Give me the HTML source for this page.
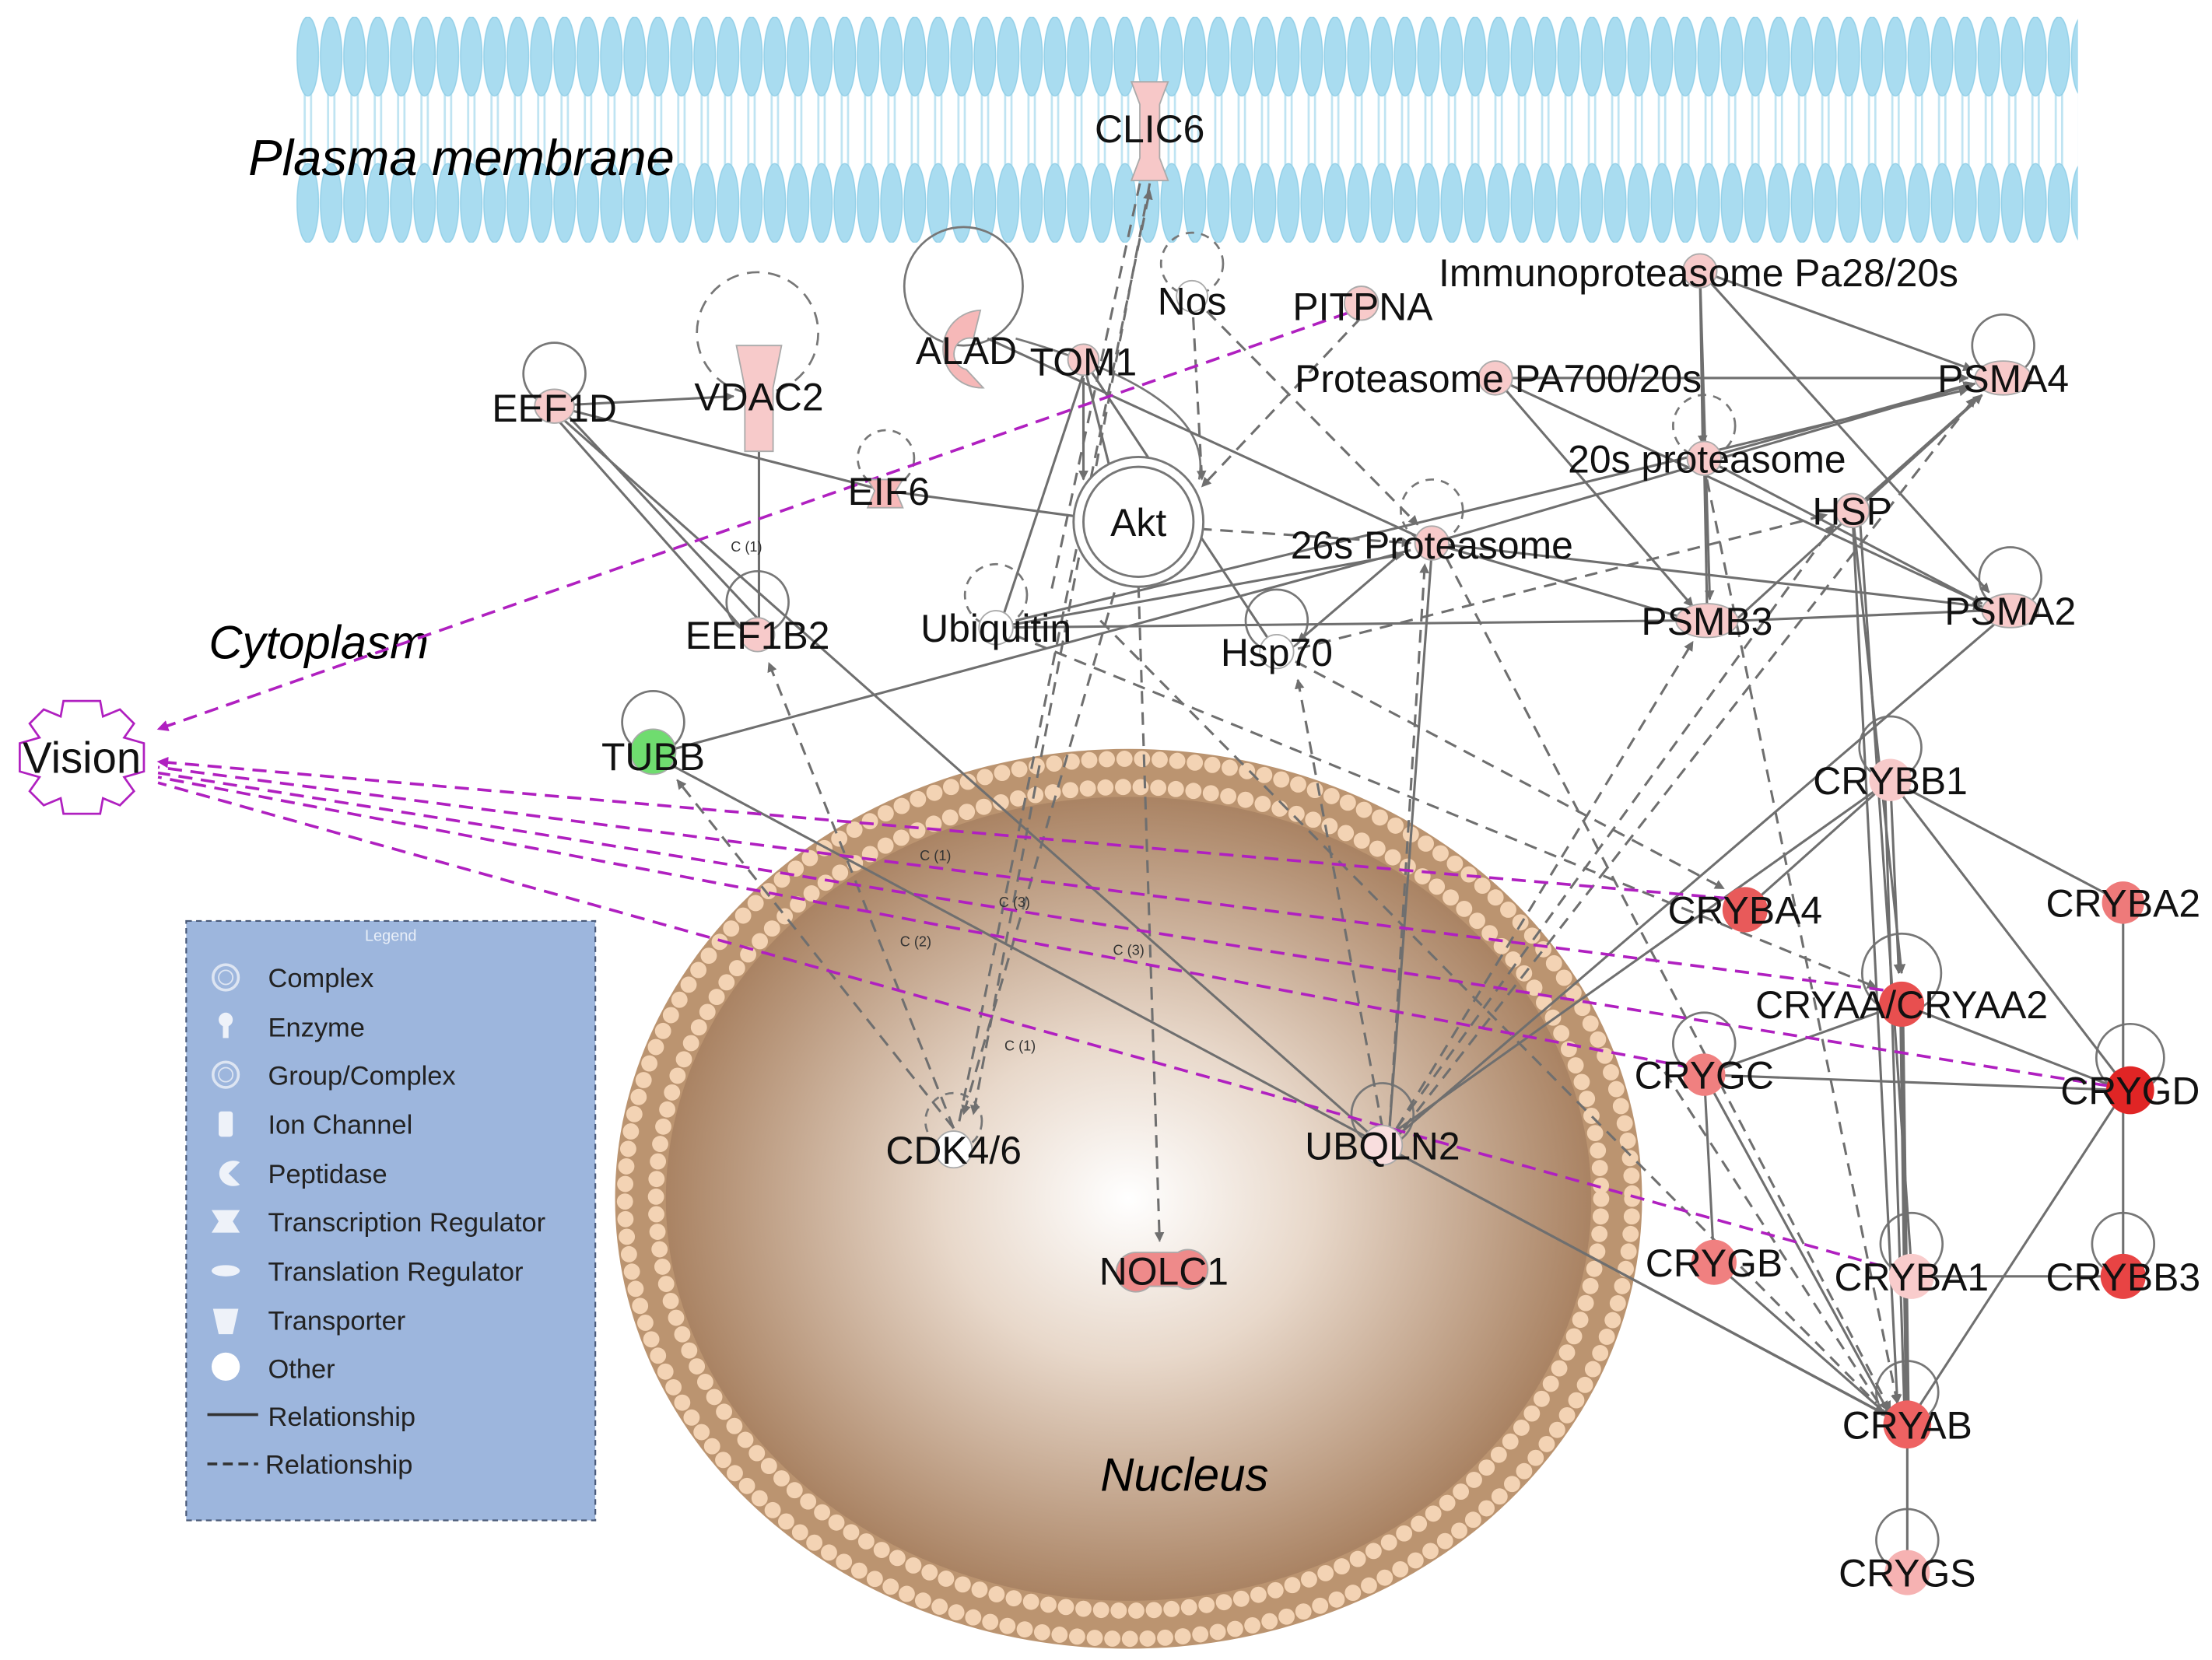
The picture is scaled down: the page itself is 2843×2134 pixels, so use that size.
<!DOCTYPE html>
<html><head><meta charset="utf-8"><style>
html,body{margin:0;padding:0;background:#fff;}
svg{display:block;}
text{font-family:"Liberation Sans",sans-serif;}
</style></head><body>
<svg width="2843" height="2134" viewBox="0 0 1568 1177" preserveAspectRatio="none" xmlns="http://www.w3.org/2000/svg">
<defs>
<pattern id="mem" x="210" y="12" width="16.55" height="160" patternUnits="userSpaceOnUse">
 <line x1="6" y1="50" x2="6" y2="122" stroke="#bfe4f2" stroke-width="1.5"/>
 <line x1="10.5" y1="50" x2="10.5" y2="122" stroke="#bfe4f2" stroke-width="1.5"/>
 <ellipse cx="8.2" cy="28" rx="7.6" ry="28" fill="#a9dcf0" stroke="#93d0e8" stroke-width="0.8"/>
 <ellipse cx="8.2" cy="132" rx="7.6" ry="28" fill="#a9dcf0" stroke="#93d0e8" stroke-width="0.8"/>
</pattern>
<radialGradient id="nuc" cx="800" cy="850" r="330" gradientUnits="userSpaceOnUse" gradientTransform="translate(800 850) scale(1 0.87) translate(-800 -850)">
 <stop offset="0" stop-color="#ffffff"/><stop offset="0.4" stop-color="#e8d8ca"/><stop offset="1" stop-color="#a98262"/>
</radialGradient>
<marker id="ar" viewBox="0 0 10 10" refX="9" refY="5" markerWidth="7" markerHeight="7" orient="auto" markerUnits="userSpaceOnUse"><path d="M0,0L10,5L0,10z" fill="#6f6f6f"/></marker>
<marker id="am" viewBox="0 0 10 10" refX="9" refY="5" markerWidth="8" markerHeight="8" orient="auto" markerUnits="userSpaceOnUse"><path d="M0,0L10,5L0,10z" fill="#b020c0"/></marker>
</defs>

<rect x="210" y="12" width="1263" height="160" fill="url(#mem)"/>

<ellipse cx="800" cy="850" rx="364" ry="319" fill="#bb9470"/>
<ellipse cx="800" cy="850" rx="357" ry="312" fill="none" stroke="#f3d3b4" stroke-width="11.5" stroke-dasharray="0 12.5" stroke-linecap="round"/>
<ellipse cx="800" cy="850" rx="335" ry="292" fill="none" stroke="#f3d3b4" stroke-width="11.5" stroke-dasharray="0 12.5" stroke-linecap="round"/>
<ellipse cx="800" cy="850" rx="328" ry="285" fill="url(#nuc)"/>

<text x="176" y="124" font-size="36" font-style="italic">Plasma membrane</text>
<text x="148" y="467" font-size="33" font-style="italic">Cytoplasm</text>
<text x="780" y="1057" font-size="33" font-style="italic">Nucleus</text>

<rect x="132" y="653" width="290" height="425" fill="#9db6dd" stroke="#4a5a78" stroke-width="1.2" stroke-dasharray="4 3"/>
<text x="277" y="667" font-size="11" fill="#e8eef8" text-anchor="middle">Legend</text>
<g font-size="19" fill="#222">
<circle cx="160" cy="693" r="9" fill="none" stroke="#dde5f2" stroke-width="2"/><circle cx="160" cy="693" r="5" fill="none" stroke="#dde5f2"/><text x="190" y="700">Complex</text>
<circle cx="160" cy="723" r="5" fill="#eef2f9"/><rect x="158" y="727" width="4" height="9" fill="#eef2f9"/><text x="190" y="735">Enzyme</text>
<circle cx="160" cy="762" r="9" fill="none" stroke="#dde5f2" stroke-width="2"/><circle cx="160" cy="762" r="5" fill="none" stroke="#dde5f2"/><text x="190" y="769">Group/Complex</text>
<rect x="155" y="788" width="10" height="18" rx="2" fill="#eef2f9"/><text x="190" y="804">Ion Channel</text>
<path d="M170,824 A10,9 0 1,0 170,840 L162,832z" fill="#eef2f9"/><text x="190" y="839">Peptidase</text>
<path d="M150,858 L170,858 L165,866 L170,874 L150,874 L155,866z" fill="#eef2f9"/><text x="190" y="873">Transcription Regulator</text>
<ellipse cx="160" cy="901" rx="10" ry="4" fill="#eef2f9"/><text x="190" y="908">Translation Regulator</text>
<path d="M151,928 L169,928 L165,946 L155,946z" fill="#eef2f9"/><text x="190" y="943">Transporter</text>
<circle cx="160" cy="969" r="10" fill="#fff"/><text x="190" y="977">Other</text>
<line x1="147" y1="1003" x2="183" y2="1003" stroke="#333" stroke-width="2"/><text x="190" y="1011">Relationship</text>
<line x1="147" y1="1038" x2="183" y2="1038" stroke="#333" stroke-width="2" stroke-dasharray="7 4"/><text x="188" y="1045">Relationship</text>
</g>

<g fill="none" stroke="#777" stroke-width="1.5">
<circle cx="393" cy="265" r="22"/>
<circle cx="537" cy="236" r="43" stroke-dasharray="9 6"/>
<circle cx="683" cy="203" r="42"/>
<circle cx="845" cy="187" r="22" stroke-dasharray="6 5"/>
<circle cx="628" cy="325" r="20" stroke-dasharray="6 5"/>
<circle cx="537" cy="427" r="22"/>
<circle cx="706" cy="422" r="22" stroke-dasharray="6 5"/>
<circle cx="1015" cy="362" r="22" stroke-dasharray="6 5"/>
<circle cx="1208" cy="302" r="22" stroke-dasharray="6 5"/>
<circle cx="1420" cy="245" r="22"/>
<circle cx="1425" cy="410" r="22"/>
<circle cx="463" cy="512" r="22"/>
<circle cx="905" cy="440" r="22"/>
<circle cx="1340" cy="530" r="22"/>
<circle cx="1348" cy="690" r="28"/>
<circle cx="1208" cy="740" r="22"/>
<circle cx="1510" cy="750" r="24"/>
<circle cx="1355" cy="882" r="22"/>
<circle cx="1505" cy="882" r="22"/>
<circle cx="1352" cy="987" r="22"/>
<circle cx="1352" cy="1092" r="22"/>
<circle cx="980" cy="790" r="22"/>
<circle cx="676" cy="795" r="20" stroke-dasharray="6 5"/>
<path d="M720,240 C790,260 860,290 850,340"/>
</g>

<g stroke="#6f6f6f" stroke-width="1.7" fill="none">
<line x1="405" y1="287" x2="520" y2="281" marker-end="url(#ar)"/>
<line x1="393" y1="288" x2="628" y2="348"/>
<line x1="393" y1="295" x2="530" y2="450"/>
<line x1="400" y1="292" x2="545" y2="447"/>
<line x1="400" y1="298" x2="980" y2="812"/>
<line x1="538" y1="300" x2="538" y2="440"/>
<line x1="628" y1="348" x2="762" y2="366"/>
<line x1="700" y1="240" x2="1015" y2="385"/>
<line x1="768" y1="255" x2="905" y2="462"/>
<line x1="768" y1="265" x2="710" y2="440"/>
<line x1="770" y1="265" x2="790" y2="345" marker-end="url(#ar)"/>
<line x1="768" y1="268" x2="768" y2="340" marker-end="url(#ar)"/>
<line x1="706" y1="445" x2="995" y2="393" marker-end="url(#ar)"/>
<line x1="706" y1="445" x2="1190" y2="440"/>
<line x1="720" y1="440" x2="1395" y2="276" marker-end="url(#ar)"/>
<line x1="463" y1="535" x2="1000" y2="390"/>
<line x1="475" y1="542" x2="1335" y2="1002" marker-end="url(#ar)"/>
<line x1="1015" y1="385" x2="1400" y2="272" marker-end="url(#ar)"/>
<line x1="1015" y1="385" x2="1405" y2="430" marker-end="url(#ar)"/>
<line x1="1015" y1="385" x2="1190" y2="437"/>
<line x1="1015" y1="390" x2="985" y2="800"/>
<line x1="990" y1="395" x2="920" y2="455" marker-end="url(#ar)"/>
<line x1="1060" y1="268" x2="1395" y2="268" marker-end="url(#ar)"/>
<line x1="1060" y1="268" x2="1200" y2="430" marker-end="url(#ar)"/>
<line x1="1060" y1="268" x2="1405" y2="428" marker-end="url(#ar)"/>
<line x1="1205" y1="192" x2="1398" y2="262" marker-end="url(#ar)"/>
<line x1="1205" y1="192" x2="1207" y2="315" marker-end="url(#ar)"/>
<line x1="1205" y1="192" x2="1410" y2="420" marker-end="url(#ar)"/>
<line x1="1205" y1="192" x2="1212" y2="425" marker-end="url(#ar)"/>
<line x1="1208" y1="325" x2="1398" y2="272" marker-end="url(#ar)"/>
<line x1="1208" y1="325" x2="1405" y2="428" marker-end="url(#ar)"/>
<line x1="1208" y1="325" x2="1210" y2="428"/>
<line x1="1313" y1="362" x2="1405" y2="280" marker-end="url(#ar)"/>
<line x1="1230" y1="440" x2="1400" y2="285"/>
<line x1="1235" y1="440" x2="1405" y2="433"/>
<line x1="1313" y1="362" x2="1348" y2="690" marker-end="url(#ar)"/>
<line x1="1313" y1="362" x2="1345" y2="995" marker-end="url(#ar)"/>
<line x1="1318" y1="362" x2="1355" y2="900"/>
<line x1="1425" y1="433" x2="985" y2="810"/>
<line x1="985" y1="805" x2="1340" y2="553"/>
<line x1="980" y1="812" x2="1340" y2="1005"/>
<line x1="1340" y1="553" x2="1237" y2="645"/>
<line x1="1340" y1="553" x2="1505" y2="640"/>
<line x1="1340" y1="553" x2="1505" y2="768"/>
<line x1="1340" y1="553" x2="1346" y2="690" marker-end="url(#ar)"/>
<line x1="1336" y1="553" x2="1350" y2="1000"/>
<line x1="1505" y1="640" x2="1505" y2="905"/>
<line x1="1348" y1="712" x2="1505" y2="773"/>
<line x1="1348" y1="712" x2="1208" y2="762"/>
<line x1="1208" y1="762" x2="1505" y2="773"/>
<line x1="1208" y1="762" x2="1215" y2="895"/>
<line x1="1208" y1="762" x2="1338" y2="1000" marker-end="url(#ar)"/>
<line x1="1505" y1="775" x2="1352" y2="1010"/>
<line x1="1355" y1="905" x2="1505" y2="905"/>
<line x1="1348" y1="712" x2="1352" y2="1000" stroke-width="3.5" marker-end="url(#ar)"/>
<line x1="1352" y1="1010" x2="1352" y2="1115"/>
<line x1="1215" y1="895" x2="1340" y2="1005" marker-end="url(#ar)"/>
</g>

<g stroke="#6f6f6f" stroke-width="1.7" fill="none" stroke-dasharray="9 6">
<line x1="680" y1="795" x2="815" y2="135" marker-end="url(#ar)"/>
<line x1="815" y1="130" x2="690" y2="790" marker-end="url(#ar)"/>
<line x1="808" y1="130" x2="745" y2="420"/>
<line x1="845" y1="210" x2="1005" y2="372" marker-end="url(#ar)"/>
<line x1="845" y1="210" x2="852" y2="340" marker-end="url(#ar)"/>
<line x1="965" y1="225" x2="852" y2="345" marker-end="url(#ar)"/>
<line x1="807" y1="415" x2="822" y2="880" marker-end="url(#ar)"/>
<line x1="790" y1="420" x2="683" y2="790" marker-end="url(#ar)"/>
<line x1="676" y1="800" x2="480" y2="553" marker-end="url(#ar)"/>
<line x1="676" y1="800" x2="545" y2="470" marker-end="url(#ar)"/>
<line x1="980" y1="800" x2="920" y2="482" marker-end="url(#ar)"/>
<line x1="990" y1="800" x2="1200" y2="455" marker-end="url(#ar)"/>
<line x1="990" y1="800" x2="1300" y2="372" marker-end="url(#ar)"/>
<line x1="995" y1="800" x2="1400" y2="282" marker-end="url(#ar)"/>
<line x1="985" y1="800" x2="1010" y2="400" marker-end="url(#ar)"/>
<line x1="905" y1="462" x2="1222" y2="630" marker-end="url(#ar)"/>
<line x1="920" y1="460" x2="1295" y2="365" marker-end="url(#ar)"/>
<line x1="706" y1="445" x2="1330" y2="700" marker-end="url(#ar)"/>
<line x1="1025" y1="395" x2="1340" y2="1000" marker-end="url(#ar)"/>
<line x1="1210" y1="340" x2="1345" y2="995" marker-end="url(#ar)"/>
<line x1="850" y1="375" x2="1000" y2="385" marker-end="url(#ar)"/>
<line x1="780" y1="440" x2="1330" y2="995"/>
<line x1="1180" y1="760" x2="1335" y2="1000"/>
</g>

<g stroke="#b020c0" stroke-width="2" fill="none" stroke-dasharray="10 6">
<line x1="955" y1="222" x2="112" y2="517" marker-end="url(#am)"/>
<line x1="1225" y1="637" x2="112" y2="540" marker-end="url(#am)"/>
<line x1="1335" y1="702" x2="112" y2="544"/>
<line x1="1495" y1="770" x2="112" y2="548"/>
<line x1="1215" y1="760" x2="112" y2="551"/>
<line x1="1335" y1="898" x2="112" y2="555"/>
</g>

<g font-size="10" fill="#333">
<text x="518" y="391">C (1)</text>
<text x="652" y="610">C (1)</text>
<text x="708" y="643">C (3)</text>
<text x="638" y="671">C (2)</text>
<text x="789" y="677">C (3)</text>
<text x="712" y="745">C (1)</text>
</g>

<g stroke="#aaa" stroke-width="1">
<path d="M802,58 L828,58 L822,74 L822,112 L828,128 L802,128 L808,112 L808,74z" fill="#f7c8c8"/>
<circle cx="845" cy="210" r="11" fill="#fff"/>
<circle cx="965" cy="215" r="12" fill="#f7caca"/>
<circle cx="1205" cy="192" r="12" fill="#f7caca"/>
<path d="M695,220 A22,22 0 1,0 697,275 L685,262 A10,10 0 0,1 690,240z" fill="#f6b8b8"/>
<circle cx="768" cy="255" r="11" fill="#f7caca"/>
<ellipse cx="393" cy="288" rx="14" ry="12" fill="#f7caca"/>
<path d="M522,245 L554,245 L548,275 L548,320 L528,320 L528,275z" fill="#f7caca"/>
<circle cx="1060" cy="268" r="12" fill="#f7caca"/>
<ellipse cx="1420" cy="268" rx="20" ry="12" fill="#f7caca"/>
<circle cx="1208" cy="325" r="12" fill="#f7caca"/>
<path d="M615,340 L640,340 L635,348 L640,360 L615,360 L620,348z" fill="#f6b8b8"/>
<circle cx="807" cy="370" r="46" fill="#fff" stroke="#777" stroke-width="1.6"/>
<circle cx="807" cy="370" r="39" fill="#fff" stroke="#777" stroke-width="1.6"/>
<circle cx="1015" cy="385" r="12" fill="#f7caca"/>
<circle cx="1313" cy="362" r="12" fill="#f7caca"/>
<ellipse cx="1210" cy="440" rx="22" ry="12" fill="#f7caca"/>
<ellipse cx="1425" cy="433" rx="20" ry="12" fill="#f7caca"/>
<circle cx="537" cy="450" r="12" fill="#f7caca"/>
<circle cx="706" cy="445" r="12" fill="#fff"/>
<circle cx="905" cy="462" r="12" fill="#fff"/>
<circle cx="463" cy="533" r="16" fill="#6fdc6f"/>
<circle cx="1340" cy="553" r="15" fill="#f7caca" stroke="none"/>
<circle cx="1237" cy="645" r="16" fill="#e85a5a" stroke="none"/>
<circle cx="1505" cy="640" r="15" fill="#ee7a7a" stroke="none"/>
<circle cx="1348" cy="712" r="16" fill="#e84f4f" stroke="none"/>
<circle cx="1208" cy="762" r="15" fill="#f08080" stroke="none"/>
<circle cx="1510" cy="773" r="17" fill="#e02525" stroke="none"/>
<circle cx="676" cy="815" r="13" fill="#fff"/>
<circle cx="980" cy="812" r="14" fill="#f9dede"/>
<circle cx="1215" cy="895" r="16" fill="#f08080" stroke="none"/>
<circle cx="1355" cy="905" r="16" fill="#f9cccc" stroke="none"/>
<circle cx="1505" cy="905" r="16" fill="#e84444" stroke="none"/>
<path d="M806,888 A14,14 0 1,0 815,912 L835,912 A14,14 0 1,0 835,888z" fill="#ee8a8a"/>
<circle cx="1352" cy="1010" r="17" fill="#ee6262" stroke="none"/>
<circle cx="1352" cy="1115" r="16" fill="#f6b2b2" stroke="none"/>
</g>

<path d="M45,497 L71,497 L73,508 L85,503 L95,513 L88,523 L102,527 L102,547 L88,551 L95,561 L85,571 L73,566 L71,577 L45,577 L43,566 L31,571 L21,561 L28,551 L14,547 L14,527 L28,523 L21,513 L31,503 L43,508z" fill="#fff" stroke="#b020c0" stroke-width="1.5"/>

<g font-size="27.5" fill="#111">
<text x="815" y="101" text-anchor="middle">CLIC6</text>
<text x="845" y="223" text-anchor="middle">Nos</text>
<text x="966" y="227" text-anchor="middle">PITPNA</text>
<text x="1204" y="203" text-anchor="middle">Immunoproteasome Pa28/20s</text>
<text x="685" y="258" text-anchor="middle">ALAD</text>
<text x="768" y="266" text-anchor="middle">TOM1</text>
<text x="393" y="299" text-anchor="middle">EEF1D</text>
<text x="538" y="291" text-anchor="middle">VDAC2</text>
<text x="1062" y="278" text-anchor="middle">Proteasome PA700/20s</text>
<text x="1420" y="278" text-anchor="middle">PSMA4</text>
<text x="1210" y="335" text-anchor="middle">20s proteasome</text>
<text x="630" y="358" text-anchor="middle">EIF6</text>
<text x="807" y="380" text-anchor="middle">Akt</text>
<text x="1015" y="396" text-anchor="middle">26s Proteasome</text>
<text x="1313" y="372" text-anchor="middle">HSP</text>
<text x="1210" y="450" text-anchor="middle">PSMB3</text>
<text x="1425" y="443" text-anchor="middle">PSMA2</text>
<text x="537" y="460" text-anchor="middle">EEF1B2</text>
<text x="706" y="455" text-anchor="middle">Ubiquitin</text>
<text x="905" y="472" text-anchor="middle">Hsp70</text>
<text x="463" y="546" text-anchor="middle">TUBB</text>
<text x="58" y="548" text-anchor="middle" font-size="31">Vision</text>
<text x="1340" y="563" text-anchor="middle">CRYBB1</text>
<text x="1237" y="655" text-anchor="middle">CRYBA4</text>
<text x="1505" y="650" text-anchor="middle">CRYBA2</text>
<text x="1348" y="722" text-anchor="middle">CRYAA/CRYAA2</text>
<text x="1208" y="772" text-anchor="middle">CRYGC</text>
<text x="1510" y="783" text-anchor="middle">CRYGD</text>
<text x="676" y="825" text-anchor="middle">CDK4/6</text>
<text x="980" y="822" text-anchor="middle">UBQLN2</text>
<text x="1215" y="905" text-anchor="middle">CRYGB</text>
<text x="1355" y="915" text-anchor="middle">CRYBA1</text>
<text x="1505" y="915" text-anchor="middle">CRYBB3</text>
<text x="825" y="911" text-anchor="middle">NOLC1</text>
<text x="1352" y="1020" text-anchor="middle">CRYAB</text>
<text x="1352" y="1125" text-anchor="middle">CRYGS</text>
</g>
</svg>
</body></html>
